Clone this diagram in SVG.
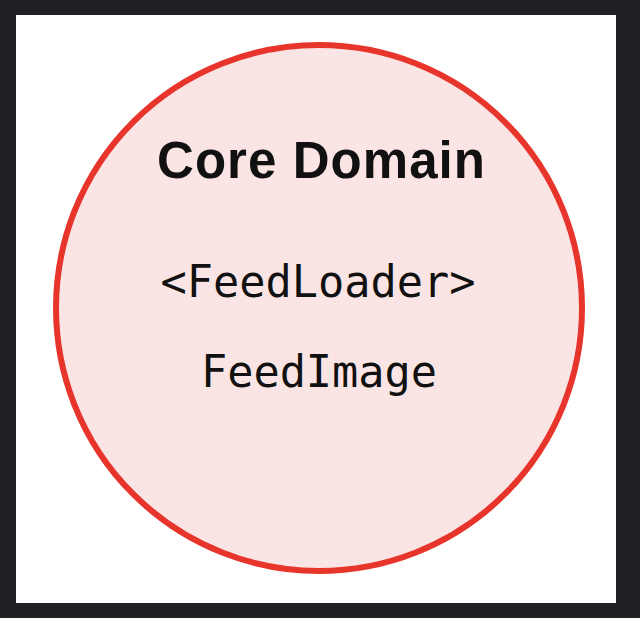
<svg xmlns="http://www.w3.org/2000/svg" width="640" height="618" viewBox="0 0 640 618">
  <style>
    .title { font-family: "Liberation Sans", Arial, sans-serif; font-weight: bold; font-size: 51px; fill: #111111; }
    .code { font-family: "DejaVu Sans Mono", "Liberation Mono", monospace; font-size: 43.6px; fill: #111111; }
  </style>
  <!-- frame -->
  <rect x="0" y="0" width="640" height="618" fill="#1f2125"/>
  <rect x="16" y="15" width="600" height="588" fill="#ffffff"/>
  <g id="core-domain">
    <circle cx="319" cy="308" r="263" fill="#fbe4e4" stroke="#e8352b" stroke-width="6"/>
    <text class="title" x="321" y="178" text-anchor="middle" textLength="328" lengthAdjust="spacing">Core Domain</text>
    <text class="code" x="318" y="297" text-anchor="middle">&lt;FeedLoader&gt;</text>
    <text class="code" x="319" y="387" text-anchor="middle">FeedImage</text>
  </g>
  <g id="connectors"/>
</svg>
